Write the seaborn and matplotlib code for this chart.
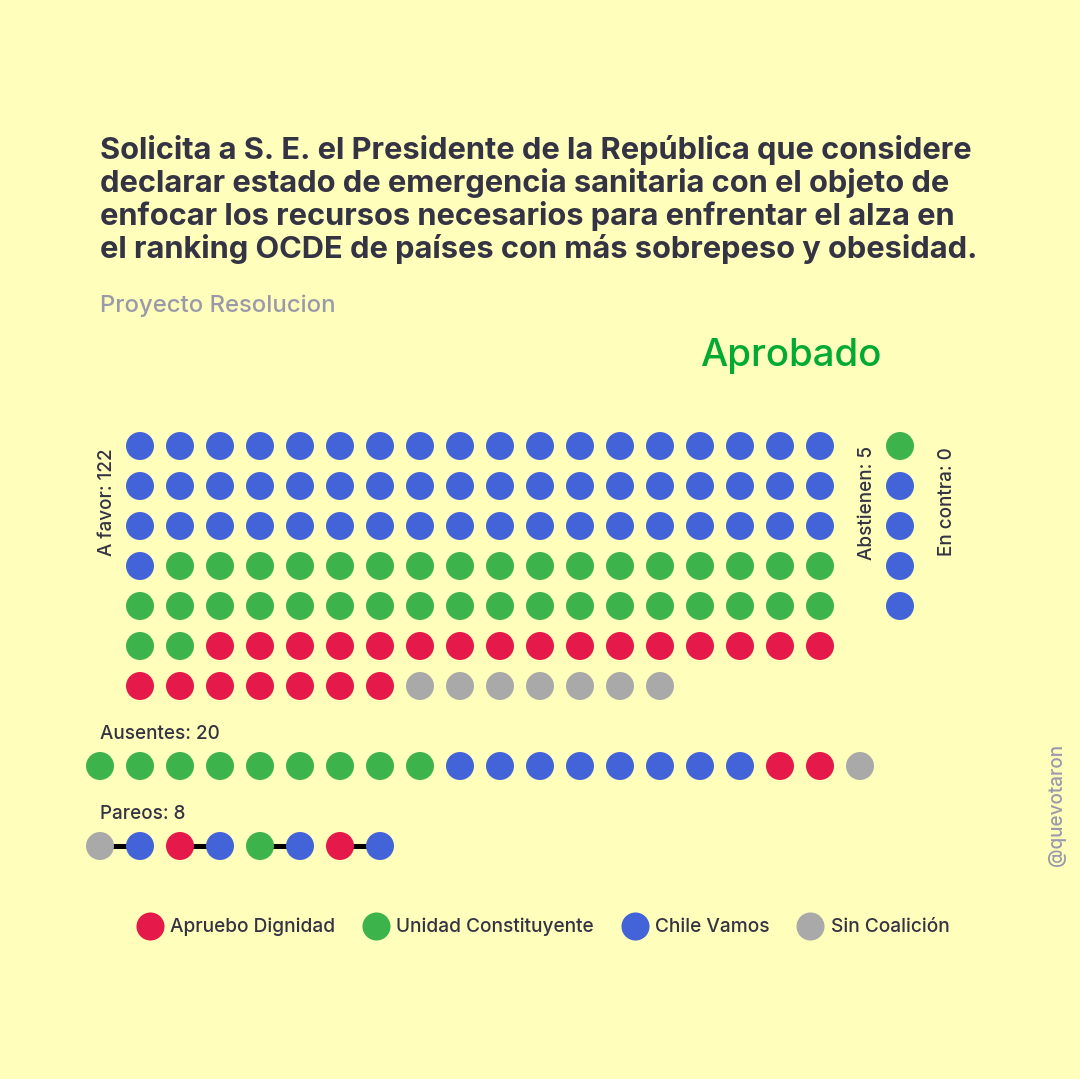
import pandas as pd
import seaborn as sns
from matplotlib import pyplot as plt

BG = "#FFFEBB"
INK = "#333344"
COALITIONS = ["Apruebo Dignidad", "Unidad Constituyente", "Chile Vamos", "Sin Coalición"]
COLORS = ["#E6194B", "#3CB44B", "#4363D8", "#A9A9A9"]
A, U, C, S = COALITIONS

TITLE_LINES = [
    "Solicita a S. E. el Presidente de la República que considere",
    "declarar estado de emergencia sanitaria con el objeto de",
    "enfocar los recursos necesarios para enfrentar el alza en",
    "el ranking OCDE de países con más sobrepeso y obesidad.",
]
SUBTITLE = "Proyecto Resolucion"
RESULT = "Aprobado"

# votos, en orden de lectura
a_favor = [C] * 55 + [U] * 37 + [A] * 23 + [S] * 7
abstienen = [U] * 1 + [C] * 4
en_contra = []
ausentes = [U] * 9 + [C] * 8 + [A] * 2 + [S] * 1
pareos = [S, C, A, C, U, C, A, C]


def seats(votes, x0, y0, per_row=None, per_col=None, step=40):
    rows = []
    for i, v in enumerate(votes):
        if per_row:
            rows.append((x0 + step * (i % per_row), y0 + step * (i // per_row), v))
        else:
            rows.append((x0 + step * (i // per_col), y0 + step * (i % per_col), v))
    return pd.DataFrame(rows, columns=["x", "y", "coalicion"])


df = pd.concat([
    seats(a_favor, 140, 446, per_row=18),
    seats(abstienen, 900, 446, per_col=5),
    seats(ausentes, 100, 766, per_row=20),
    seats(pareos, 100, 846, per_row=8),
], ignore_index=True)

par = seats(pareos, 100, 846, per_row=8)
par["par"] = par.index // 2

sns.set_theme(style="white", rc={"figure.facecolor": BG, "axes.facecolor": BG})
plt.rcParams["font.family"] = ["Inter", "DejaVu Sans"]
plt.rcParams["font.weight"] = "medium"

fig = plt.figure(figsize=(10.8, 10.79), dpi=100)
ax = fig.add_axes([0, 0, 1, 1])

sns.lineplot(data=par, x="x", y="y", units="par", estimator=None, color="black",
             linewidth=3.6, ax=ax, zorder=1, legend=False)
sns.scatterplot(data=df, x="x", y="y", hue="coalicion", hue_order=COALITIONS,
                palette=COLORS, s=406, linewidth=0, ax=ax, zorder=2)

ax.set_xlim(0, 1080)
ax.set_ylim(1079, 0)
ax.set_axis_off()

sns.move_legend(ax, "center", bbox_to_anchor=(542.5 / 1080, 1 - 927 / 1079), ncol=4, title=None,
                frameon=False, fontsize=13.75, labelcolor=INK, columnspacing=1.38,
                handletextpad=0.32, handlelength=1.5)
for h in ax.get_legend().legend_handles:
    h.set_markersize(20.2)

for i, line in enumerate(TITLE_LINES):
    ax.text(100, 150 + 33 * i, line, fontsize=22.2, fontweight="bold", color=INK, va="center", ha="left")
ax.text(100, 306, SUBTITLE, fontsize=17.2, color="#9999AA", va="center", ha="left")
ax.text(700, 356, RESULT, fontsize=27.7, color="#00AA33", va="center", ha="left")

ax.text(107, 502, f"A favor: {len(a_favor)}", fontsize=13.6, color=INK, rotation=90, va="center", ha="center")
ax.text(867, 503, f"Abstienen: {len(abstienen)}", fontsize=13.6, color=INK, rotation=90, va="center", ha="center")
ax.text(947, 502, f"En contra: {len(en_contra)}", fontsize=13.6, color=INK, rotation=90, va="center", ha="center")
ax.text(100, 734, f"Ausentes: {len(ausentes)}", fontsize=13.6, color=INK, va="center", ha="left")
ax.text(100, 814, f"Pareos: {len(pareos)}", fontsize=13.6, color=INK, va="center", ha="left")
ax.text(1057, 805, "@quevotaron", fontsize=13.6, color="#9999AA", rotation=90, va="center", ha="center")

fig.savefig("out.png", dpi=100, facecolor=BG)
